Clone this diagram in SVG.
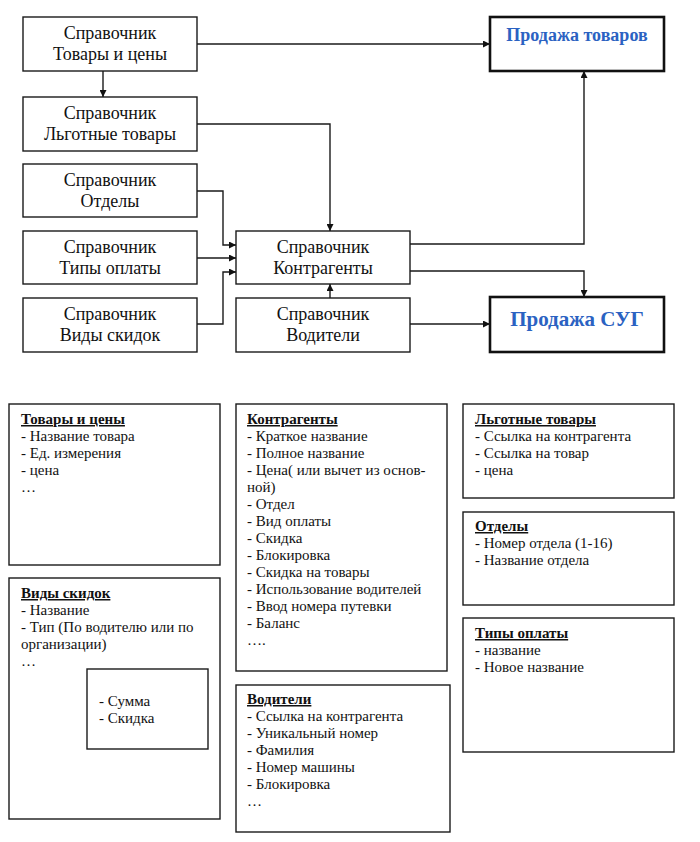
<svg xmlns="http://www.w3.org/2000/svg" width="700" height="842" viewBox="0 0 700 842">
<style>
.b{fill:#fff;stroke:#1a1a1a;stroke-width:1.4}
.bt{fill:#fff;stroke:#111;stroke-width:2.6}
.n{font-family:'Liberation Serif','DejaVu Serif',serif;font-size:18px;fill:#111;text-anchor:middle}
.h{font-family:'Liberation Serif','DejaVu Serif',serif;font-weight:bold;fill:#2B62C2;text-anchor:middle}
.t{font-family:'Liberation Serif','DejaVu Serif',serif;font-size:15px;fill:#111}
.tt{font-weight:bold;text-decoration:underline}
.c{fill:none;stroke:#1a1a1a;stroke-width:1.4}
</style>
<defs>
<marker id="a" viewBox="0 0 10 10" refX="10" refY="5" markerWidth="7" markerHeight="7" markerUnits="userSpaceOnUse" orient="auto"><path d="M0,0L10,5L0,10z" fill="#111"/></marker>
</defs>
<rect width="700" height="842" fill="#fff"/>
<g id="n-tovary"><rect class="b" x="23" y="17" width="174" height="54"/><text class="n" x="110" y="39">Справочник</text><text class="n" x="110" y="60">Товары и цены</text></g>
<g id="n-lgotnye"><rect class="b" x="23" y="97" width="174" height="54"/><text class="n" x="110" y="119">Справочник</text><text class="n" x="110" y="140">Льготные товары</text></g>
<g id="n-otdely"><rect class="b" x="23" y="164" width="174" height="53"/><text class="n" x="110" y="186">Справочник</text><text class="n" x="110" y="207">Отделы</text></g>
<g id="n-tipy"><rect class="b" x="23" y="231" width="174" height="53"/><text class="n" x="110" y="253">Справочник</text><text class="n" x="110" y="274">Типы оплаты</text></g>
<g id="n-vidy"><rect class="b" x="23" y="298" width="174" height="54"/><text class="n" x="110" y="320">Справочник</text><text class="n" x="110" y="341">Виды скидок</text></g>
<g id="n-kontr"><rect class="b" x="236" y="231" width="174" height="53"/><text class="n" x="323" y="253">Справочник</text><text class="n" x="323" y="274">Контрагенты</text></g>
<g id="n-vod"><rect class="b" x="236" y="298" width="174" height="54"/><text class="n" x="323" y="320">Справочник</text><text class="n" x="323" y="341">Водители</text></g>
<g id="n-prod"><rect class="bt" x="490" y="17" width="174" height="54"/><text class="h" x="577" y="41" font-size="18">Продажа товаров</text></g>
<g id="n-sug"><rect class="bt" x="490" y="297" width="174" height="55"/><text class="h" x="577" y="326" font-size="21">Продажа СУГ</text></g>
<g id="connectors">
<path class="c" d="M197,44H490" marker-end="url(#a)"/>
<path class="c" d="M103,71V97" marker-end="url(#a)"/>
<path class="c" d="M197,124H330V231" marker-end="url(#a)"/>
<path class="c" d="M197,191H223V245H236" marker-end="url(#a)"/>
<path class="c" d="M197,258H236" marker-end="url(#a)"/>
<path class="c" d="M197,324H223V272H236" marker-end="url(#a)"/>
<path class="c" d="M330,298V284" marker-end="url(#a)"/>
<path class="c" d="M410,244H584V71" marker-end="url(#a)"/>
<path class="c" d="M410,271H584V297" marker-end="url(#a)"/>
<path class="c" d="M410,324H490" marker-end="url(#a)"/>
</g>
<g id="d-tovary"><rect class="b" x="9" y="404" width="211" height="161"/>
<text class="t" x="21"><tspan class="tt" x="21" y="424">Товары и цены</tspan><tspan x="21" y="441">- Название товара</tspan><tspan x="21" y="458">- Ед. измерения</tspan><tspan x="21" y="475">- цена</tspan><tspan x="21" y="492">…</tspan></text></g>
<g id="d-vidy"><rect class="b" x="9" y="578" width="211" height="241"/>
<text class="t"><tspan class="tt" x="21" y="598">Виды скидок</tspan><tspan x="21" y="615">- Название</tspan><tspan x="21" y="632">- Тип (По водителю или по</tspan><tspan x="21" y="649">организации)</tspan><tspan x="21" y="666">…</tspan></text>
<rect class="b" x="87" y="669" width="121" height="80"/>
<text class="t"><tspan x="99" y="706">- Сумма</tspan><tspan x="99" y="723">- Скидка</tspan></text></g>
<g id="d-kontr"><rect class="b" x="236" y="404" width="211" height="267"/>
<text class="t"><tspan class="tt" x="247" y="424">Контрагенты</tspan><tspan x="247" y="441">- Краткое название</tspan><tspan x="247" y="458">- Полное название</tspan><tspan x="247" y="475">- Цена( или вычет из основ-</tspan><tspan x="247" y="492">ной)</tspan><tspan x="247" y="509">- Отдел</tspan><tspan x="247" y="526">- Вид оплаты</tspan><tspan x="247" y="543">- Скидка</tspan><tspan x="247" y="560">- Блокировка</tspan><tspan x="247" y="577">- Скидка на товары</tspan><tspan x="247" y="594">- Использование водителей</tspan><tspan x="247" y="611">- Ввод номера путевки</tspan><tspan x="247" y="628">- Баланс</tspan><tspan x="247" y="645">….</tspan></text></g>
<g id="d-vod"><rect class="b" x="236" y="685" width="214" height="147"/>
<text class="t"><tspan class="tt" x="247" y="704">Водители</tspan><tspan x="247" y="721">- Ссылка на контрагента</tspan><tspan x="247" y="738">- Уникальный номер</tspan><tspan x="247" y="755">- Фамилия</tspan><tspan x="247" y="772">- Номер машины</tspan><tspan x="247" y="789">- Блокировка</tspan><tspan x="247" y="806">…</tspan></text></g>
<g id="d-lgot"><rect class="b" x="463" y="404" width="211" height="94"/>
<text class="t"><tspan class="tt" x="475" y="424">Льготные товары</tspan><tspan x="475" y="441">- Ссылка на контрагента</tspan><tspan x="475" y="458">- Ссылка на товар</tspan><tspan x="475" y="475">- цена</tspan></text></g>
<g id="d-otdely"><rect class="b" x="463" y="512" width="211" height="93"/>
<text class="t"><tspan class="tt" x="475" y="531">Отделы</tspan><tspan x="475" y="548">- Номер отдела (1-16)</tspan><tspan x="475" y="565">- Название отдела</tspan></text></g>
<g id="d-tipy"><rect class="b" x="463" y="618" width="211" height="134"/>
<text class="t"><tspan class="tt" x="475" y="638">Типы оплаты</tspan><tspan x="475" y="655">- название</tspan><tspan x="475" y="672">- Новое название</tspan></text></g>
</svg>
